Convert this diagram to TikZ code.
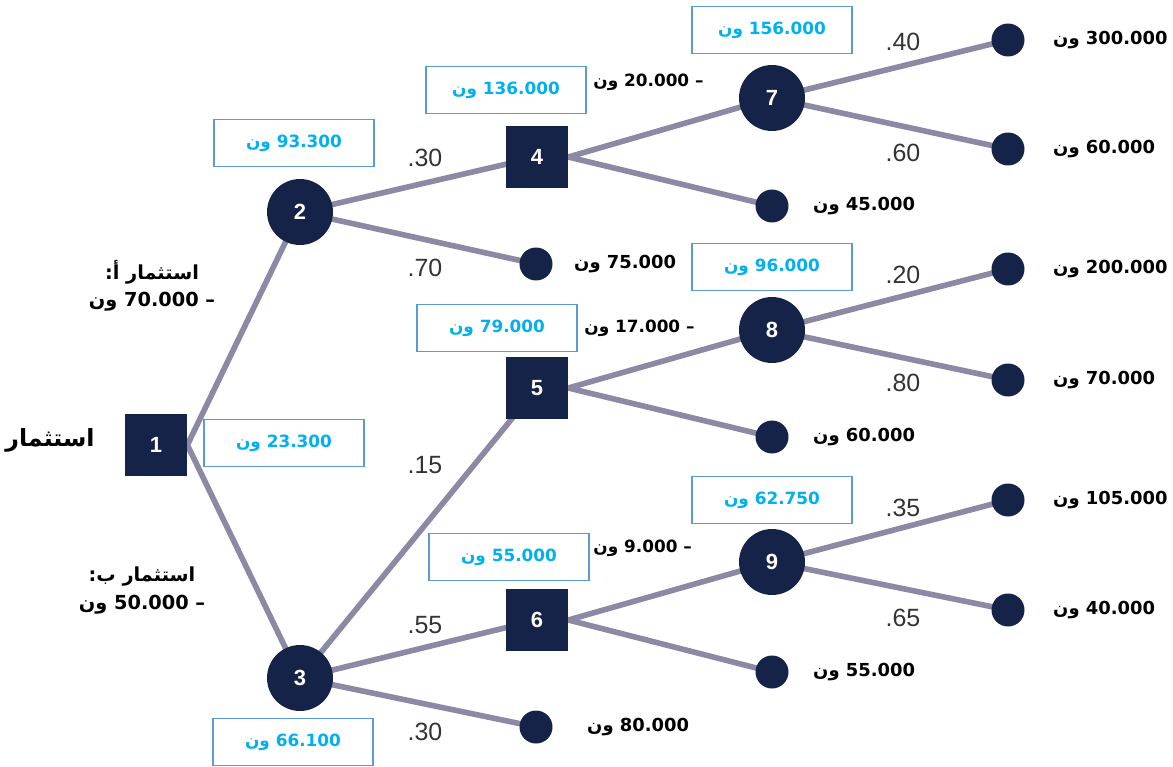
\documentclass[tikz,border=0pt]{standalone}
\usepackage{fontspec}
\setmainfont{Liberation Sans}
\newfontfamily\arabicfont[Script=Arabic]{DejaVu Sans}
\TeXXeTstate=1
\usetikzlibrary{positioning,backgrounds}
\definecolor{navy}{RGB}{22,35,72}
\definecolor{twig}{RGB}{140,137,164}
\definecolor{boxline}{RGB}{91,155,213}
\definecolor{evblue}{RGB}{0,176,240}
\newcommand{\wn}[1]{\beginR #1 ون\endR}

\begin{document}
\begin{tikzpicture}[x=0.02cm, y=-0.02cm,
  decision/.style={fill=navy, minimum size=1.24cm, inner sep=0pt, text=white, font=\bfseries\fontsize{12.5}{14}\selectfont},
  chance/.style={circle, fill=navy, minimum size=1.32cm, inner sep=0pt, text=white, font=\bfseries\fontsize{12.5}{14}\selectfont},
  leaf/.style={circle, fill=navy, minimum size=0.66cm, inner sep=0pt},
  evbox/.style={draw=boxline, line width=1pt, fill=white, minimum width=3.2cm, minimum height=0.94cm, inner sep=0pt, text=evblue, font=\arabicfont\bfseries\fontsize{9.6}{11}\selectfont},
  prob/.style={inner sep=0pt, text=black!80, font=\fontsize{14.2}{16}\selectfont},
  pay/.style={inner sep=0pt, font=\arabicfont\bfseries\fontsize{10.2}{12}\selectfont},
  cost/.style={inner sep=0pt, anchor=west, font=\arabicfont\bfseries\fontsize{9.6}{11}\selectfont},
  invest/.style={inner sep=0pt, font=\arabicfont\bfseries\fontsize{11}{13}\selectfont},
  branch/.style={draw=twig, line width=3.2pt},
]
\useasboundingbox (0,0) rectangle (1173,767);

% decision and chance nodes
\node[decision] (n1) at (156,445) {1};
\node[chance] (n2) at (300,212) {2};
\node[chance] (n3) at (300,678) {3};
\node[decision] (n4) at (537,157) {4};
\node[decision] (n5) at (537,388) {5};
\node[decision] (n6) at (537,620) {6};
\node[chance] (n7) at (772,98) {7};
\node[chance] (n8) at (772,330) {8};
\node[chance] (n9) at (772,562) {9};

% end points
\node[leaf] (l2) at (536,264) {};
\node[leaf] (l3) at (536,727) {};
\node[leaf] (l4) at (772,206) {};
\node[leaf] (l5) at (772,437) {};
\node[leaf] (l6) at (772,672) {};
\node[leaf] (l7a) at (1008,40) {};
\node[leaf] (l7b) at (1008,149) {};
\node[leaf] (l8a) at (1008,269) {};
\node[leaf] (l8b) at (1008,380) {};
\node[leaf] (l9a) at (1008,500) {};
\node[leaf] (l9b) at (1008,610) {};

% branches
\begin{scope}[on background layer]
  \draw[branch] (n1.east) -- (n2.center) (n1.east) -- (n3.center);
  \draw[branch] (n2.center) -- (n4.center) (n2.center) -- (l2.center);
  \draw[branch] (n3.center) -- (n5.center) (n3.center) -- (n6.center) (n3.center) -- (l3.center);
  \draw[branch] (n4.east) -- (n7.center) (n4.east) -- (l4.center);
  \draw[branch] (n5.east) -- (n8.center) (n5.east) -- (l5.center);
  \draw[branch] (n6.east) -- (n9.center) (n6.east) -- (l6.center);
  \draw[branch] (n7.center) -- (l7a.center) (n7.center) -- (l7b.center);
  \draw[branch] (n8.center) -- (l8a.center) (n8.center) -- (l8b.center);
  \draw[branch] (n9.center) -- (l9a.center) (n9.center) -- (l9b.center);
\end{scope}

% probabilities
\node[prob] (p24) at (425,158) {.30};
\node[prob] (p2l) at (425,268) {.70};
\node[prob] (p35) at (425,465) {.15};
\node[prob] (p36) at (425,625) {.55};
\node[prob] (p3l) at (425,732) {.30};
\node[prob] (p7a) at (903,42) {.40};
\node[prob] (p7b) at (903,153) {.60};
\node[prob] (p8a) at (903,275) {.20};
\node[prob] (p8b) at (903,383) {.80};
\node[prob] (p9a) at (903,508) {.35};
\node[prob] (p9b) at (903,618) {.65};

% payoffs
\node[pay, right=0.56cm of l7a] (v7a) {\wn{300.000}};
\node[pay, right=0.56cm of l7b] (v7b) {\wn{60.000}};
\node[pay, right=0.56cm of l8a] (v8a) {\wn{200.000}};
\node[pay, right=0.56cm of l8b] (v8b) {\wn{70.000}};
\node[pay, right=0.56cm of l9a] (v9a) {\wn{105.000}};
\node[pay, right=0.56cm of l9b] (v9b) {\wn{40.000}};
\node[pay, right=0.48cm of l4] (v4) {\wn{45.000}};
\node[pay, right=0.48cm of l5] (v5) {\wn{60.000}};
\node[pay, right=0.48cm of l6] (v6) {\wn{55.000}};
\node[pay, right=0.42cm of l2] (v2) {\wn{75.000}};
\node[pay, right=0.68cm of l3] (v3) {\wn{80.000}};

% expected values
\node[evbox] (e1) at (284,443) {\wn{23.300}};
\node[evbox] (e2) at (294,143) {\wn{93.300}};
\node[evbox] (e3) at (293,742) {\wn{66.100}};
\node[evbox] (e4) at (506,90) {\wn{136.000}};
\node[evbox] (e5) at (497,328) {\wn{79.000}};
\node[evbox] (e6) at (509,557) {\wn{55.000}};
\node[evbox] (e7) at (772,30) {\wn{156.000}};
\node[evbox] (e8) at (772,267) {\wn{96.000}};
\node[evbox] (e9) at (772,500) {\wn{62.750}};

% costs
\node[cost] (c4) at (593,82) {\wn{– 20.000}};
\node[cost] (c5) at (584,328) {\wn{– 17.000}};
\node[cost] (c6) at (593,548) {\wn{– 9.000}};

% investment labels
\node[font=\arabicfont\bfseries\fontsize{13.5}{16}\selectfont, inner sep=0pt] (root) at (50,440) {استثمار};
\node[invest] (inva) at (152,272) {\beginR\mbox{استثمار}\ \mbox{أ}\mbox{:}\endR};
\node[invest] (costa) at (152,302) {\wn{– 70.000}};
\node[invest] (invb) at (142,577) {\beginR\mbox{استثمار}\ \mbox{ب}\mbox{:}\endR};
\node[invest] (costb) at (142,605) {\wn{– 50.000}};
\end{tikzpicture}
\end{document}
